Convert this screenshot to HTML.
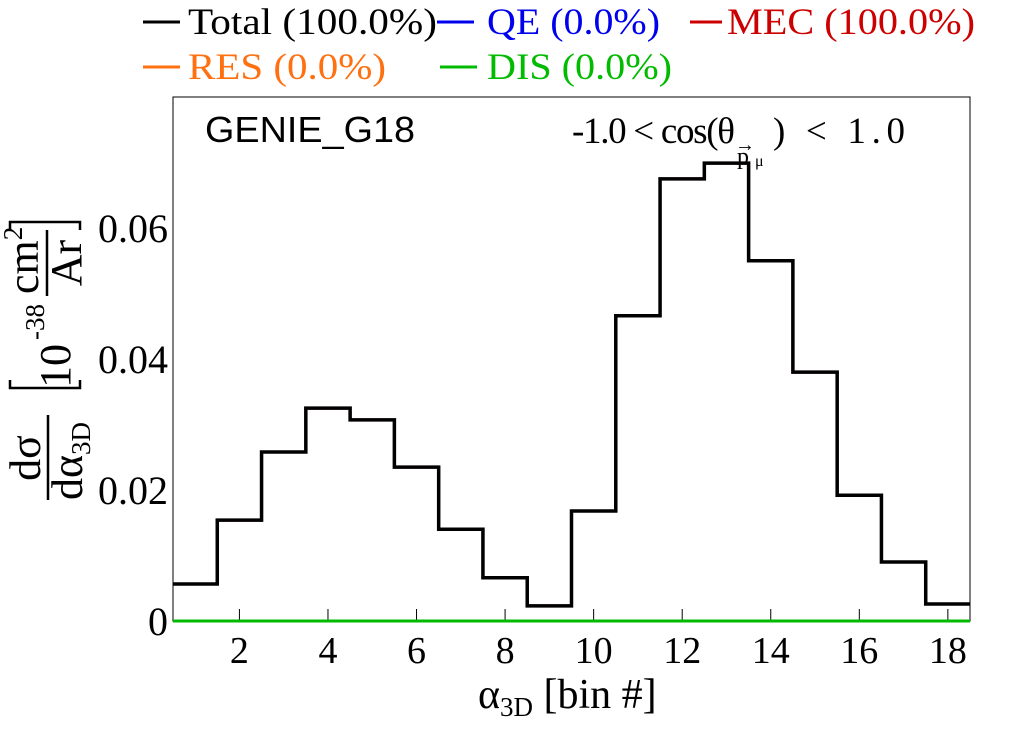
<!DOCTYPE html>
<html><head><meta charset="utf-8"><style>
body{margin:0;background:#fff;}
svg{display:block;font-family:"Liberation Serif",serif;}
</style></head><body>
<svg id="chart" width="1020" height="740" viewBox="0 0 1020 740">
<g font-size="37">
 <g><line x1="143" y1="22" x2="180" y2="22" stroke="#000" stroke-width="3"/><text x="188" y="34" fill="#000" textLength="249" lengthAdjust="spacingAndGlyphs">Total (100.0%)</text></g>
 <g><line x1="437" y1="22" x2="474" y2="22" stroke="#0000ee" stroke-width="3"/><text x="487" y="34" fill="#0000ee" textLength="173" lengthAdjust="spacingAndGlyphs">QE (0.0%)</text></g>
 <g><line x1="690" y1="22" x2="722" y2="22" stroke="#cc0000" stroke-width="3"/><text x="727" y="34" fill="#cc0000" textLength="248" lengthAdjust="spacingAndGlyphs">MEC (100.0%)</text></g>
 <g><line x1="143" y1="67" x2="180" y2="67" stroke="#ff7010" stroke-width="3"/><text x="188" y="79" fill="#ff7010" textLength="198" lengthAdjust="spacingAndGlyphs">RES (0.0%)</text></g>
 <g><line x1="440" y1="67" x2="477" y2="67" stroke="#00bb00" stroke-width="3"/><text x="487" y="79" fill="#00bb00" textLength="185" lengthAdjust="spacingAndGlyphs">DIS (0.0%)</text></g>
</g>
<rect x="173" y="97" width="797" height="524" fill="none" stroke="#000" stroke-width="1"/>
<text x="205" y="142" font-family="Liberation Sans, sans-serif" font-size="36" textLength="210" lengthAdjust="spacingAndGlyphs">GENIE_G18</text>
<g font-size="37">
 <text x="572" y="143" textLength="163" lengthAdjust="spacing">-1.0 &lt; cos(θ</text>
 <text x="737" y="164" font-size="24">p</text>
 <text x="755" y="166" font-size="16">μ</text>
 <text x="735" y="151" font-size="20">→</text>
 <text x="773" y="143" textLength="132" lengthAdjust="spacing">) &lt; 1.0</text>
</g>
<g id="axes" font-size="38"></g>
<g id="marks"></g>
<g transform="translate(0,740) rotate(-90)" font-size="44">
 <text x="282" y="40" text-anchor="middle">dσ</text>
 <line x1="240" y1="48" x2="325" y2="48" stroke="#000" stroke-width="2.5"/>
 <text x="240" y="82">dα<tspan font-size="27" dy="8">3D</tspan></text>
 <path d="M360,10 L352,10 L352,80 L360,80 M510,10 L518,10 L518,80 L510,80" fill="none" stroke="#000" stroke-width="2.5"/>
 <text x="352" y="70">10</text>
 <text x="400" y="44" font-size="27">-38</text>
 <text x="446" y="38">cm<tspan font-size="27" dy="-16">2</tspan></text>
 <line x1="444" y1="47" x2="510" y2="47" stroke="#000" stroke-width="2.5"/>
 <text x="477" y="81" text-anchor="middle">Ar</text>
</g>
<text x="478" y="708" font-size="42">α<tspan font-size="27" dy="8">3D</tspan><tspan dy="-8"> [bin #]</tspan></text>
<script>
const binValues=[0.00565,0.0154,0.0258,0.0325,0.0307,0.0235,0.014,0.0066,0.0023,0.0168,0.0466,0.0675,0.0699,0.055,0.038,0.0192,0.009,0.0026];
const xTicks=[2,4,6,8,10,12,14,16,18];
const yTicks=[0,0.02,0.04,0.06];
const yTickLabels=["0","0.02","0.04","0.06"];
const xMin=0.5,xMax=18.5,yMin=0,yMax=0.08;
const L=173,R=970,T=97,B=621;
const NS="http://www.w3.org/2000/svg";
function sx(v){return L+(v-xMin)/(xMax-xMin)*(R-L);}
function sy(v){return B-(v-yMin)/(yMax-yMin)*(B-T);}
const axes=document.getElementById('axes');
const marks=document.getElementById('marks');
xTicks.forEach(t=>{
 const l=document.createElementNS(NS,'line');
 
 
 l.setAttribute('x1',sx(t));l.setAttribute('x2',sx(t));l.setAttribute('y1',B);l.setAttribute('y2',B-12);
 l.setAttribute('stroke','#000');axes.appendChild(l);
 const tx=document.createElementNS(NS,'text');
 
 
 tx.setAttribute('x',sx(t));tx.setAttribute('y',B+42);tx.setAttribute('text-anchor','middle');
 tx.textContent=t;axes.appendChild(tx);
});
yTicks.forEach((t,i)=>{
 const tx=document.createElementNS(NS,'text');
 
 
 tx.setAttribute('x',L-5);tx.setAttribute('y',sy(t)+14);tx.setAttribute('text-anchor','end');
 tx.setAttribute('font-size','40');
 tx.textContent=yTickLabels[i];axes.appendChild(tx);
});
function stepPath(vals){
 let d='';
 vals.forEach((v,i)=>{
  const x0=sx(i+0.5),x1=sx(i+1.5),y=sy(v);
  d+=(i===0?'M':'L')+x0+','+y+' L'+x1+','+y+' ';
 });
 return d;
}
const zeros=binValues.map(()=>0);
[['res-histogram','#ff7010',zeros],['qe-histogram','#0000ee',zeros],['dis-histogram','#00bb00',zeros]].forEach(s=>{
 const p=document.createElementNS(NS,'path');
 
 
 p.setAttribute('d',stepPath(s[2]));p.setAttribute('fill','none');p.setAttribute('stroke',s[1]);p.setAttribute('stroke-width','3');
 marks.appendChild(p);
});
const mec=document.createElementNS(NS,'path');


mec.setAttribute('d',stepPath(binValues));mec.setAttribute('fill','none');mec.setAttribute('stroke','#cc0000');mec.setAttribute('stroke-width','3');
marks.appendChild(mec);
const tot=document.createElementNS(NS,'path');


tot.setAttribute('d',stepPath(binValues));tot.setAttribute('fill','none');tot.setAttribute('stroke','#000');tot.setAttribute('stroke-width','3.5');
marks.appendChild(tot);
</script>
</svg>
</body></html>
